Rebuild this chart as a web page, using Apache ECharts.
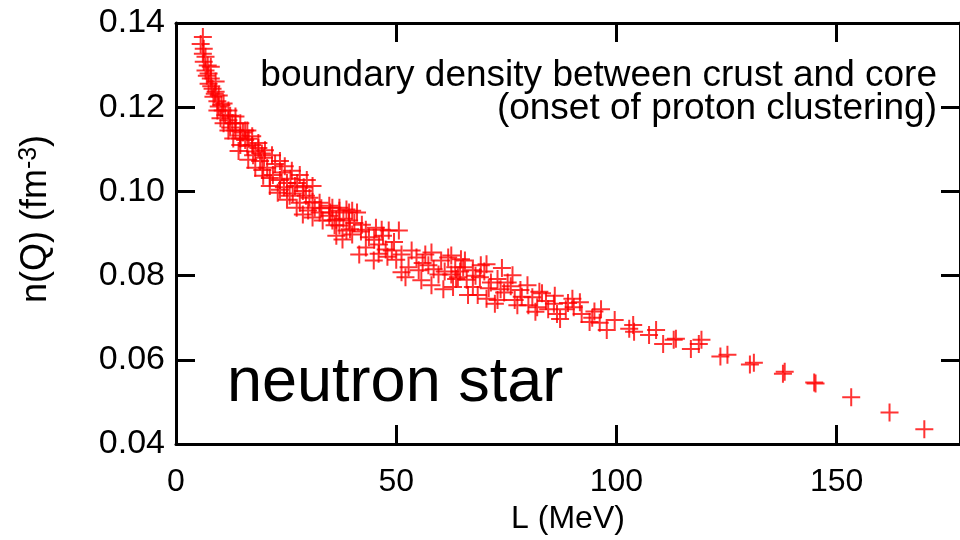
<!DOCTYPE html>
<html>
<head>
<meta charset="utf-8">
<title>n(Q) vs L</title>
<script src="https://cdn.jsdelivr.net/npm/echarts@6/dist/echarts.min.js"></script>
<style>
  html, body { margin: 0; padding: 0; background: #fff; overflow: hidden; }
  #chart { width: 960px; height: 540px; }
</style>
</head>
<body>
<div id="chart"></div>
<script>
// [L (MeV), n(Q) (fm^-3)]
var headPoints = [
  [6.1, 0.1367], [5.6, 0.1350], [6.3, 0.1339], [6.1, 0.1327], [6.7, 0.1320],
  [6.3, 0.1308], [7.2, 0.1299], [6.7, 0.1287], [7.4, 0.1280], [7.9, 0.1268],
  [7.4, 0.1256], [8.3, 0.1244], [9.0, 0.1237], [8.5, 0.1225], [9.4, 0.1214],
  [9.7, 0.1202], [10.6, 0.1192], [11.2, 0.1181], [11.9, 0.1169], [12.8, 0.1162],
  [13.5, 0.1145], [14.6, 0.1133], [15.7, 0.1122], [17.3, 0.1110], [18.7, 0.1103],
  [7.9, 0.1296], [9.0, 0.1261], [9.7, 0.1228], [10.8, 0.1209], [11.9, 0.1192],
  [13.5, 0.1178], [14.6, 0.1162], [16.2, 0.1145], [9.4, 0.1192], [10.1, 0.1174],
  [10.8, 0.1162], [11.9, 0.1145], [13.0, 0.1126], [14.6, 0.1110],
  [7.0, 0.1275], [8.0, 0.1250], [8.8, 0.1232], [10.3, 0.1205], [12.3, 0.1180],
  [12.3, 0.1152], [15.2, 0.1140], [16.5, 0.1125], [18.0, 0.1095], [19.5, 0.1090]
]
var bandUpper = [
  [13.5, 0.1162], [15.7, 0.1145], [17.3, 0.1131], [18.7, 0.1115], [20.2, 0.1098],
  [21.8, 0.1086], [23.6, 0.1072], [24.7, 0.1060], [26.3, 0.1049], [28.1, 0.1039],
  [29.7, 0.1027], [31.0, 0.1013]
]
var bandMiddle = [
  [14.6, 0.1126], [16.2, 0.1108], [17.5, 0.1086], [19.1, 0.1072], [20.7, 0.1056],
  [22.0, 0.1039], [23.6, 0.1027], [25.2, 0.1020], [27.0, 0.1013], [28.8, 0.1001],
  [30.3, 0.0985], [32.6, 0.0973], [34.8, 0.0966], [37.1, 0.0954], [39.3, 0.0950],
  [32.6, 0.0950], [34.8, 0.0942], [31.5, 0.0961], [28.1, 0.0973], [25.8, 0.0990],
  [23.6, 0.1004], [21.3, 0.1032], [19.6, 0.1051],
  [20.0, 0.1080], [22.5, 0.1065], [24.0, 0.1045], [26.0, 0.1030], [27.5, 0.1020],
  [29.0, 0.1010], [24.5, 0.1010], [26.5, 0.0995], [29.5, 0.0990], [31.0, 0.0975],
  [33.0, 0.0960], [30.0, 0.0955], [35.0, 0.0950], [36.0, 0.0920], [38.0, 0.0935],
  [40.5, 0.0925], [42.0, 0.0905], [39.5, 0.0910]
]
var bandLower = [
  [14.2, 0.1096], [16.4, 0.1075], [18.0, 0.1056], [19.8, 0.1037], [21.3, 0.1013],
  [23.1, 0.0997], [25.2, 0.0980], [27.4, 0.0961], [28.8, 0.0945], [31.0, 0.0938],
  [33.3, 0.0931], [36.4, 0.0933], [39.3, 0.0931]
]
var clusterPoints = [
  [35.5, 0.0961], [37.1, 0.0961], [38.7, 0.0957], [40.0, 0.0954], [41.1, 0.0950],
  [35.5, 0.0931], [37.1, 0.0919], [38.7, 0.0907], [36.4, 0.0895], [37.8, 0.0886],
  [40.0, 0.0898], [42.2, 0.0921], [43.1, 0.0909], [45.4, 0.0914], [46.7, 0.0909],
  [48.3, 0.0907], [50.6, 0.0907], [43.8, 0.0891], [43.1, 0.0867], [41.6, 0.0850],
  [46.1, 0.0874], [47.6, 0.0862], [44.9, 0.0836], [49.0, 0.0860], [51.2, 0.0850],
  [53.5, 0.0860], [54.6, 0.0843], [56.6, 0.0850], [58.0, 0.0855], [52.8, 0.0820],
  [51.2, 0.0808], [52.1, 0.0796], [55.1, 0.0813], [57.3, 0.0825], [60.2, 0.0836],
  [59.6, 0.0803], [61.8, 0.0843], [63.4, 0.0820], [55.7, 0.0789], [64.0, 0.0796],
  [65.6, 0.0836], [58.0, 0.0777], [60.7, 0.0768],
  [45.0, 0.0885], [47.0, 0.0895], [49.5, 0.0880], [48.0, 0.0845], [50.0, 0.0838],
  [46.0, 0.0852],
  [62.5, 0.0848], [64.7, 0.0839], [62.5, 0.0803], [63.6, 0.0792], [62.9, 0.0773],
  [65.2, 0.0820], [67.4, 0.0813], [69.2, 0.0825], [69.0, 0.0796], [67.4, 0.0773],
  [66.3, 0.0754], [68.5, 0.0754], [71.5, 0.0784], [73.0, 0.0792], [75.3, 0.0784],
  [73.7, 0.0768], [73.0, 0.0742], [72.4, 0.0733], [76.9, 0.0742], [77.5, 0.0730],
  [78.2, 0.0766], [80.9, 0.0749], [82.0, 0.0725], [81.6, 0.0714], [85.8, 0.0733],
  [86.5, 0.0709], [87.2, 0.0697], [90.3, 0.0725], [91.7, 0.0737], [92.1, 0.0709],
  [93.9, 0.0690], [79.8, 0.0777], [83.1, 0.0758], [76.4, 0.0801],
  [56.0, 0.0830], [58.5, 0.0815], [61.0, 0.0810], [64.5, 0.0810], [66.0, 0.0790],
  [68.0, 0.0800], [70.0, 0.0810], [71.0, 0.0770], [70.5, 0.0745], [74.5, 0.0760],
  [76.0, 0.0775], [78.5, 0.0750], [80.0, 0.0730], [84.0, 0.0740], [84.5, 0.0720],
  [88.5, 0.0720], [89.0, 0.0735], [95.0, 0.0715], [94.5, 0.0700], [70.5, 0.0827],
  [74.0, 0.0818], [82.5, 0.0762], [86.0, 0.0752], [90.0, 0.0745], [96.5, 0.0720]
]
var tailPoints = [
  [96.2, 0.0688], [97.8, 0.0671], [99.6, 0.0695], [102.9, 0.0674], [103.8, 0.0683],
  [104.0, 0.0667], [107.4, 0.0659], [109.0, 0.0671], [110.6, 0.0638], [113.0, 0.0648],
  [113.5, 0.0650], [116.9, 0.0626], [118.7, 0.0638], [119.3, 0.0648], [123.6, 0.0608],
  [125.2, 0.0612], [130.3, 0.0589], [131.2, 0.0593], [137.8, 0.0567], [138.2, 0.0572],
  [144.9, 0.0546], [145.2, 0.0544], [153.3, 0.0511], [162.0, 0.0475], [169.9, 0.0435]
]
var xTicks = { min: 0, max: 178, interval: 50 }
var yTicks = { min: 0.04, max: 0.14, interval: 0.02 }

var allPoints = headPoints.concat(bandUpper, bandMiddle, bandLower, clusterPoints, tailPoints)

var font = 'Liberation Sans, Arial, Helvetica, sans-serif'
var frame = { onZero: false, lineStyle: { color: '#000', width: 3 } }
var tick = { inside: true, length: 19, lineStyle: { color: '#000', width: 3 } }

var chart = echarts.init(document.getElementById('chart'))
chart.setOption({
  backgroundColor: '#fff',
  animation: false,
  // the right edge of the frame sits just outside the picture
  grid: { left: 176, right: -7, top: 23, bottom: 92 },
  xAxis: [{
    type: 'value',
    min: xTicks.min,
    max: xTicks.max,
    interval: xTicks.interval,
    position: 'bottom',
    name: 'L (MeV)',
    nameLocation: 'middle',
    nameGap: 52,
    nameTextStyle: { fontFamily: font, fontSize: 32, color: '#000' },
    axisLine: frame,
    axisTick: tick,
    splitLine: { show: false },
    axisLabel: { fontFamily: font, fontSize: 32, color: '#000', margin: 22, showMaxLabel: false }
  }, {
    type: 'value',
    min: xTicks.min,
    max: xTicks.max,
    interval: xTicks.interval,
    position: 'top',
    axisLine: frame,
    axisTick: tick,
    splitLine: { show: false },
    axisLabel: { show: false }
  }],
  yAxis: [{
    type: 'value',
    min: yTicks.min,
    max: yTicks.max,
    interval: yTicks.interval,
    position: 'left',
    axisLine: frame,
    axisTick: tick,
    splitLine: { show: false },
    axisLabel: {
      fontFamily: font, fontSize: 34, color: '#000', margin: 11,
      formatter: function (v) { return v.toFixed(2) }
    }
  }, {
    type: 'value',
    min: yTicks.min,
    max: yTicks.max,
    interval: yTicks.interval,
    position: 'right',
    axisLine: frame,
    axisTick: tick,
    splitLine: { show: false },
    axisLabel: { show: false }
  }],
  graphic: [{
    type: 'text',
    x: 36,
    y: 219,
    rotation: Math.PI / 2,
    style: {
      text: '{a|n(Q) (fm}{s|-3}{a|)}',
      align: 'center',
      verticalAlign: 'middle',
      rich: {
        a: { fontFamily: font, fontSize: 36, color: '#000' },
        s: { fontFamily: font, fontSize: 25, color: '#000', verticalAlign: 'top', padding: [0, 0, 14, 0] }
      }
    }
  }, {
    type: 'text',
    x: 937,
    y: 76,
    style: {
      text: 'boundary density between crust and core',
      align: 'right',
      verticalAlign: 'middle',
      fontFamily: font,
      fontSize: 37,
      fill: '#000'
    }
  }, {
    type: 'text',
    x: 937,
    y: 109,
    style: {
      text: '(onset of proton clustering)',
      align: 'right',
      verticalAlign: 'middle',
      fontFamily: font,
      fontSize: 37,
      fill: '#000'
    }
  }, {
    type: 'text',
    left: 227,
    top: 352,
    style: {
      text: 'neutron star',
      fontFamily: font,
      fontSize: 63,
      fill: '#000'
    }
  }],
  series: [{
    type: 'scatter',
    xAxisIndex: 0,
    yAxisIndex: 0,
    symbol: 'path://M0,-8L0,8M-8,0L8,0',
    symbolSize: 18,
    itemStyle: { color: 'transparent', borderColor: '#ff0000', borderWidth: 2 },
    data: allPoints
  }]
})
</script>
</body>
</html>
